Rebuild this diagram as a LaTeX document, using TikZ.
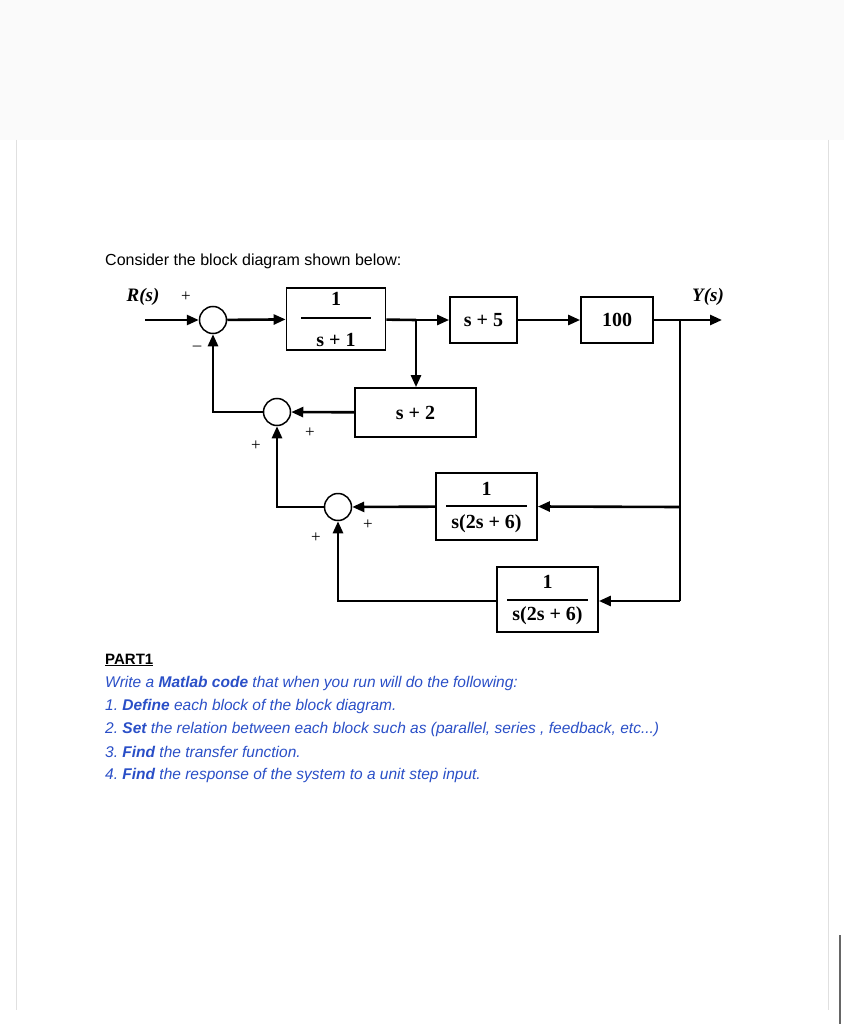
\documentclass[tikz,border=0pt]{standalone}
\usepackage{fontspec}
\setmainfont{Liberation Sans}
\newfontfamily\tms{Liberation Serif}
\usetikzlibrary{arrows.meta}
\definecolor{qblue}{HTML}{2A4FC7}
\frenchspacing
\begin{document}
\begin{tikzpicture}[x=1pt,y=-1pt,
  blk/.style={draw,line width=1.8pt,inner sep=0pt,font=\tms\bfseries\fontsize{20}{22}\selectfont},
  lbl/.style={font=\tms\bfseries\fontsize{20}{22}\selectfont},
  sum/.style={draw,circle,line width=1.5pt,minimum size=27pt,inner sep=0pt},
  sig/.style={line width=2.6pt,-{Triangle[length=12pt,width=10pt]}},
  ln/.style={line width=2.6pt},
  pm/.style={font=\tms\fontsize{17}{17}\selectfont},
  txt/.style={anchor=west,inner sep=0pt,font=\fontsize{16}{18}\selectfont},
  q/.style={txt,text=qblue,font=\fontsize{15.5}{17}\selectfont\itshape}]
\useasboundingbox (0,0) rectangle (844,1024);
\fill[black!2] (0,0) rectangle (844,140);
\draw[black!12] (16,140) -- (16,1010) (828,140) -- (828,1010);
\draw[black!60,line width=2pt] (840,935) -- (840,1024);
\node[txt] (t0) at (105,261) {Consider the block diagram shown below:};
% diagram
\coordinate (in) at (145,320);
\node[sum] (s1) at (213,320) {};
\node[blk,minimum width=99pt,minimum height=62pt] (g1) at (336,319) {};
\node[lbl] (g1n) at (336,299) {1};
\node[lbl] (g1d) at (336,340) {s + 1};
\draw[line width=1.8pt] (301,318) -- (371,318);
\coordinate (b1) at (416,320);
\node[blk,minimum width=67pt,minimum height=46pt] (g2) at (483.5,320) {s + 5};
\node[blk,minimum width=72pt,minimum height=46pt] (g3) at (617,320) {100};
\coordinate (b2) at (680,320);
\coordinate (out) at (722,320);
\node[font=\tms\bfseries\itshape\fontsize{19}{21}\selectfont] (ys) at (708,297) {Y(s)};
\node[font=\tms\bfseries\itshape\fontsize{19}{21}\selectfont] (rs) at (143,297) {R(s)};
\node[pm] (p1) at (186,297) {+};
\node[pm] (m1) at (197,348) {\textendash};
\node[blk,minimum width=121pt,minimum height=49pt] (g4) at (415.5,412.5) {s + 2};
\node[sum] (s2) at (277,412) {};
\coordinate (c2) at (213,412);
\node[pm] (p2) at (256,446) {+};
\node[pm] (p3) at (310,433) {+};
\node[blk,minimum width=101pt,minimum height=67pt] (g5) at (486.5,506.5) {};
\node[lbl] (g5n) at (486.5,489) {1};
\node[lbl] (g5d) at (486.5,524) {s(2s + 6)};
\draw[line width=1.8pt] (446,506) -- (527,506);
\node[sum] (s3) at (338,507) {};
\coordinate (c3) at (277,507);
\coordinate (b3) at (680,507);
\node[pm] (p4) at (316,538) {+};
\node[pm] (p5) at (368,525) {+};
\node[blk,minimum width=101pt,minimum height=65pt] (g6) at (547.5,599.5) {};
\node[lbl] (g6n) at (547.5,582) {1};
\node[lbl] (g6d) at (547.5,616) {s(2s + 6)};
\draw[line width=1.8pt] (507,600) -- (588,600);
\coordinate (b4) at (680,601);
\coordinate (c4) at (338,601);
\draw[sig] (in) -- (s1);
\draw[sig] (s1) -- (g1);
\draw[ln] (g1) -- (b1);
\draw[sig] (b1) -- (g2);
\draw[sig] (g2) -- (g3);
\draw[sig] (g3) -- (out);
\draw[sig] (b1) -- (g4.north -| b1);
\draw[sig] (g4) -- (s2);
\draw[sig] (s2.west) -- (c2) -- (s1.south);
\draw[ln] (b2) -- (b4);
\draw[sig] (b3) -- (g5.east);
\draw[sig] (g5) -- (s3);
\draw[sig] (s3.west) -- (c3) -- (s2.south);
\draw[sig] (b4) -- (g6.east |- b4);
\draw[sig] (g6.west |- c4) -- (c4) -- (s3.south);
% text
\node[txt,font=\fontsize{15}{17}\selectfont\bfseries] (pt) at (105,660) {\underline{PART1}};
\node[q] (q0) at (105,683) {Write a \textbf{Matlab code} that when you run will do the following:};
\node[q] (q1) at (105,706) {1. \textbf{Define} each block of the block diagram.};
\node[q] (q2) at (105,729) {2. \textbf{Set} the relation between each block such as (parallel, series , feedback, etc...)};
\node[q] (q3) at (105,752) {3. \textbf{Find} the transfer function.};
\node[q] (q4) at (105,775) {4. \textbf{Find} the response of the system to a unit step input.};
\end{tikzpicture}
\end{document}
